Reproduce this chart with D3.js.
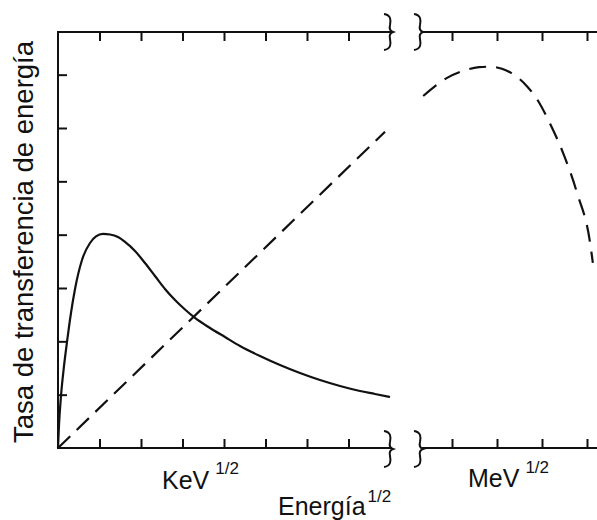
<!DOCTYPE html>
<html>
<head>
<meta charset="utf-8">
<script src="https://cdn.jsdelivr.net/npm/d3@7"></script>
<style>
  html, body { margin: 0; padding: 0; background: #fff; }
  svg { display: block; }
  text { font-family: "Liberation Sans", Arial, sans-serif; fill: #111; }
</style>
</head>
<body>
<svg id="chart" width="597" height="520"></svg>
<script>
// ---- data ----
const keVTicks = [1, 2, 3, 4, 5, 6, 7];
const meVTicks = [1, 2, 3, 4];
const yTicks = [1, 2, 3, 4, 5, 6, 7];

// solid curve (keV segment): [sqrt energy units, rate units]
const solidX = [0, 0.024, 0.072, 0.145, 0.217, 0.313, 0.41, 0.578, 0.771, 0.916, 1.084, 1.253, 1.446, 1.614, 1.855, 2.096, 2.337, 2.578, 2.819, 3.06, 3.301, 3.663, 4.024, 4.386, 4.867, 5.349, 5.831, 6.313, 6.795, 7.277, 7.639, 8.0];
const solidY = [0, 0.431, 0.975, 1.538, 1.988, 2.531, 2.981, 3.525, 3.844, 3.966, 4.013, 4.003, 3.956, 3.863, 3.694, 3.469, 3.225, 2.981, 2.775, 2.597, 2.438, 2.25, 2.081, 1.913, 1.725, 1.556, 1.406, 1.275, 1.163, 1.069, 1.013, 0.956];

// dashed straight line (keV segment)
const dashX = [0, 7.88];
const dashY = [0, 5.93];

// dashed curve (MeV segment)
const meVX = [0.36, 0.89, 1.24, 1.6, 1.85, 2.11, 2.44, 2.67, 2.89, 3.18, 3.47, 3.78, 4.07, 4.13];
const meVY = [6.60, 6.94, 7.07, 7.14, 7.15, 7.11, 6.96, 6.78, 6.54, 6.08, 5.53, 4.78, 3.84, 3.47];

const yLabel = "Tasa de transferencia de energía";
const xLabel = "Energía";
const unit1 = "KeV";
const unit2 = "MeV";
const sup = "1/2";

// ---- layout ----
const svg = d3.select("#chart");
const padL = 58, padT = 32, padB = 448;
const x1 = d3.scaleLinear().domain([0, 8]).range([padL, 390]);
const x2 = d3.scaleLinear().domain([1, 4]).range([452, 587]);
const y = d3.scaleLinear().domain([0, 7.8]).range([padB, padT]);

const lw = 2;
const g = svg.append("g");

// axes lines
const seg1End = 392, seg2Start = 422, seg2End = 597;
g.append("line").attr("x1", padL).attr("x2", padL).attr("y1", y(0)).attr("y2", y(7.8))
  .attr("stroke", "#111").attr("stroke-width", lw);
[padT, padB].forEach(yy => {
  g.append("line").attr("x1", padL - 1).attr("x2", seg1End).attr("y1", yy).attr("y2", yy)
    .attr("stroke", "#111").attr("stroke-width", lw);
  g.append("line").attr("x1", seg2Start).attr("x2", seg2End).attr("y1", yy).attr("y2", yy)
    .attr("stroke", "#111").attr("stroke-width", lw);
});

// ticks via d3 axes (inward)
function styleAxis(sel) {
  sel.select(".domain").remove();
  sel.selectAll(".tick line").attr("stroke", "#111").attr("stroke-width", lw);
  sel.selectAll(".tick text").remove();
}
g.append("g").attr("transform", `translate(0,${padB})`)
  .call(d3.axisBottom(x1).tickValues(keVTicks).tickSize(-9).tickFormat("")).call(styleAxis);
g.append("g").attr("transform", `translate(0,${padT})`)
  .call(d3.axisTop(x1).tickValues(keVTicks).tickSize(-9).tickFormat("")).call(styleAxis);
g.append("g").attr("transform", `translate(0,${padB})`)
  .call(d3.axisBottom(x2).tickValues(meVTicks).tickSize(-9).tickFormat("")).call(styleAxis);
g.append("g").attr("transform", `translate(0,${padT})`)
  .call(d3.axisTop(x2).tickValues(meVTicks).tickSize(-9).tickFormat("")).call(styleAxis);
g.append("g").attr("transform", `translate(${padL},0)`)
  .call(d3.axisLeft(y).tickValues(yTicks).tickSize(-9).tickFormat("")).call(styleAxis);

// break marks
function brace(cx, cy) {
  return `M${cx-4},${cy-18} C${cx+3},${cy-17} ${cx+3},${cy-12} ${cx+2},${cy-7}` +
         ` C${cx+1},${cy-3} ${cx+2},${cy-1} ${cx+5},${cy}` +
         ` C${cx+2},${cy+1} ${cx+1},${cy+3} ${cx+2},${cy+7}` +
         ` C${cx+3},${cy+12} ${cx+3},${cy+17} ${cx-4},${cy+18}`;
}
[padT, padB + 1].forEach(yy => {
  [388, 418].forEach(cx => {
    g.append("path").attr("d", brace(cx, yy)).attr("fill", "none")
      .attr("stroke", "#111").attr("stroke-width", lw);
  });
});

// curves
const solidData = solidX.map((v, i) => [v, solidY[i]]);
const dashData = dashX.map((v, i) => [v, dashY[i]]);
const meVData = meVX.map((v, i) => [v, meVY[i]]);

const line1 = d3.line().x(d => x1(d[0])).y(d => y(d[1])).curve(d3.curveMonotoneX);
const line2 = d3.line().x(d => x2(d[0])).y(d => y(d[1])).curve(d3.curveMonotoneX);

g.append("path").datum(solidData).attr("d", line1).attr("fill", "none")
  .attr("stroke", "#111").attr("stroke-width", 2.2);
g.append("path").datum(dashData).attr("d", line1).attr("fill", "none")
  .attr("stroke", "#111").attr("stroke-width", 2.2).attr("stroke-dasharray", "17,9");
g.append("path").datum(meVData).attr("d", line2).attr("fill", "none")
  .attr("stroke", "#111").attr("stroke-width", 2.2).attr("stroke-dasharray", "17,10");

// labels
function supLabel(x, yb, main, size, supSize, gap, supRise) {
  const t = svg.append("text").attr("x", x).attr("y", yb).style("font-size", size + "px");
  t.append("tspan").text(main);
  t.append("tspan").attr("dx", gap).attr("dy", -supRise).style("font-size", supSize + "px").text(sup);
}
supLabel(162, 489, unit1, 25, 17, 6, 15);
supLabel(468, 487, unit2, 25, 17, 6, 14);
supLabel(278, 515, xLabel, 25, 17, 2, 13);

svg.append("text").attr("transform", `translate(33,242) rotate(-90)`)
  .attr("text-anchor", "middle").style("font-size", "27.5px").text(yLabel);
</script>
</body>
</html>
